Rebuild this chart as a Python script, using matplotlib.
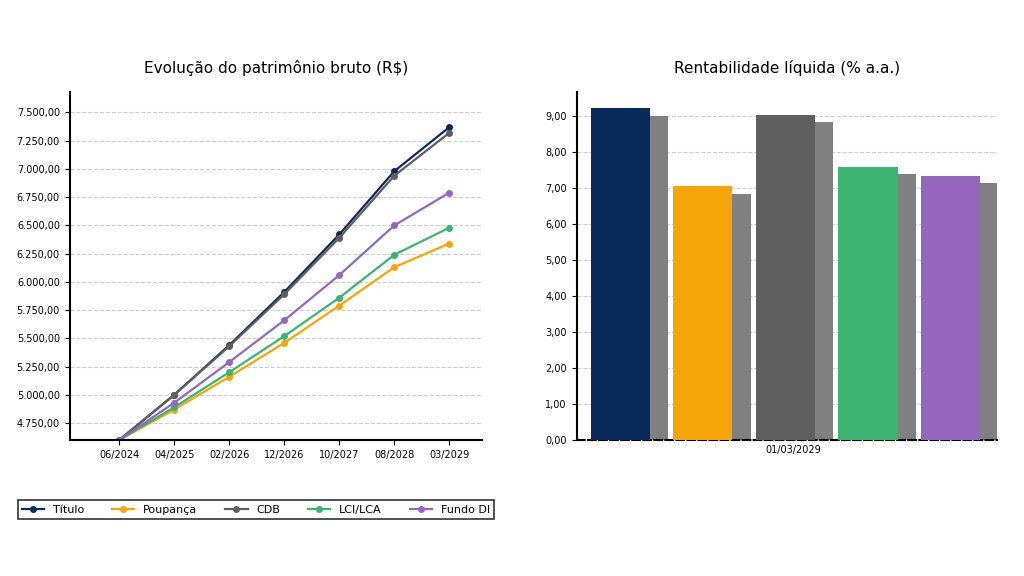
import matplotlib
matplotlib.use("Agg")
import matplotlib.pyplot as plt
import numpy as np
from matplotlib.ticker import FuncFormatter

datas = ['06/2024', '04/2025', '02/2026', '12/2026', '10/2027', '08/2028', '03/2029']
titulo = [4600, 5000, 5440, 5910, 6420, 6980, 7370]
poupanca = [4600, 4870, 5160, 5460, 5790, 6130, 6340]
cdb = [4600, 5000, 5430, 5890, 6390, 6940, 7320]
lci = [4600, 4890, 5200, 5520, 5860, 6240, 6480]
fundo = [4600, 4930, 5290, 5660, 6060, 6500, 6790]

nomes = ['Título', 'Poupança', 'CDB', 'LCI/LCA', 'Fundo DI']
cores = ['#0b2a5c', '#f5a50a', '#5f5f5f', '#3cb371', '#9467bd']
rent = [9.20, 7.05, 9.03, 7.57, 7.33]
rent_liq = [8.98, 6.83, 8.82, 7.37, 7.12]

def br(v, pos=None):
    s = '{:,.2f}'.format(v)
    return s.replace(',', 'X').replace('.', ',').replace('X', '.')

fig = plt.figure(figsize=(10.24, 5.76), dpi=100)
ax1 = fig.add_axes([0.068, 0.236, 0.403, 0.604])
ax2 = fig.add_axes([0.563, 0.236, 0.411, 0.604])

series = [titulo, poupanca, cdb, lci, fundo]
for s, n, c in zip(series, nomes, cores):
    ax1.plot(range(len(datas)), s, marker='o', markersize=4, lw=1.6, color=c, label=n)
ax1.set_xticks(range(len(datas)))
ax1.set_xticklabels(datas, fontsize=7)
ax1.set_yticks(np.arange(4750, 7501, 250))
ax1.yaxis.set_major_formatter(FuncFormatter(br))
ax1.tick_params(axis='y', labelsize=7)
ax1.set_ylim(4600, 7680)
ax1.set_xlim(-0.9, 6.6)
ax1.grid(axis='y', ls='--', color='#cccccc', lw=0.8)
for sp in ['top', 'right']:
    ax1.spines[sp].set_visible(False)
ax1.spines['left'].set_linewidth(1.5)
ax1.spines['bottom'].set_linewidth(1.5)
ax1.set_title('Evolução do patrimônio bruto (R$)', fontsize=11, pad=14)

w = 0.72
pos = np.arange(len(nomes))
ax2.bar(pos + 0.22, rent_liq, width=w, color='#808080', zorder=2)
ax2.bar(pos, rent, width=w, color=cores, zorder=3)
ax2.set_ylim(0, 9.65)
ax2.set_xlim(-0.53, 4.57)
ax2.set_yticks(np.arange(0, 9.1, 1))
ax2.yaxis.set_major_formatter(FuncFormatter(lambda v, p: '{:.2f}'.format(v).replace('.', ',')))
ax2.tick_params(axis='y', labelsize=7)
ax2.set_xticks([2.1])
ax2.set_xticklabels(['01/03/2029'], fontsize=7)
ax2.tick_params(axis='x', length=0)
ax2.grid(axis='y', ls='--', color='#cccccc', lw=0.8, zorder=0)
for sp in ['top', 'right']:
    ax2.spines[sp].set_visible(False)
ax2.spines['left'].set_linewidth(1.5)
ax2.spines['bottom'].set_linestyle('--')
ax2.spines['bottom'].set_linewidth(1.5)
ax2.set_title('Rentabilidade líquida (% a.a.)', fontsize=11, pad=14)

leg = fig.legend(*ax1.get_legend_handles_labels(), loc='center', ncol=5,
                 bbox_to_anchor=(0.25, 0.115), fontsize=8, frameon=True,
                 fancybox=False, edgecolor='black', columnspacing=2.5)
leg.get_frame().set_linewidth(1.2)

fig.savefig('out.png', dpi=100)
